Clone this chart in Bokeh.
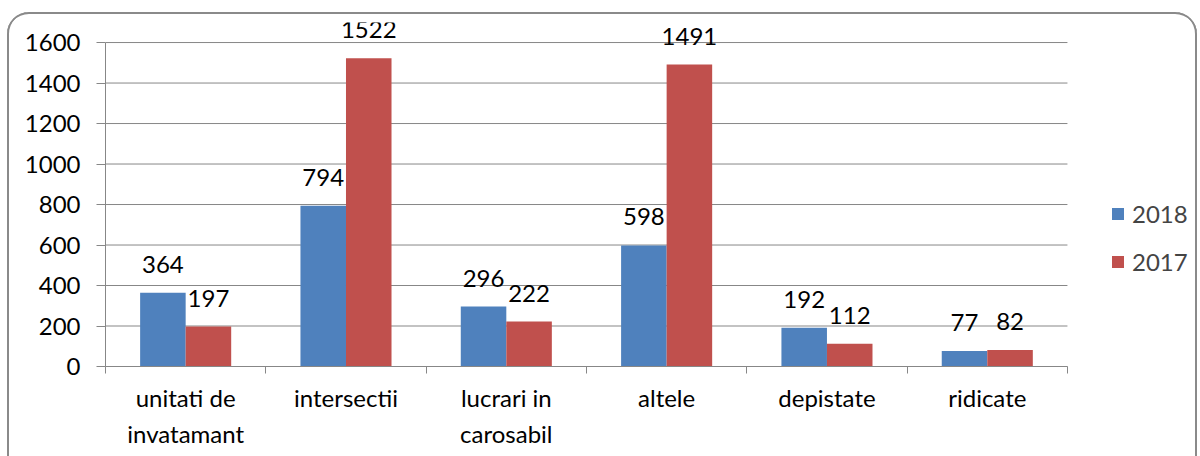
from bokeh.plotting import figure
from bokeh.models import (ColumnDataSource, LabelSet, Legend, LegendItem,
                          FixedTicker, Range1d)
from bokeh.embed import file_html
from bokeh.resources import INLINE
from bokeh.core.properties import value

categories = ["unitati de\ninvatamant", "intersectii", "lucrari in\ncarosabil",
              "altele", "depistate", "ridicate"]
series_names = ["2018", "2017"]
values_2018 = [364, 794, 296, 598, 192, 77]
values_2017 = [197, 1522, 222, 1491, 112, 82]
y_ticks = [0, 200, 400, 600, 800, 1000, 1200, 1400, 1600]

colors = ["#4F81BD", "#C0504D"]
FONT = "Lato"
FS = "24px"
GRID = "#878787"
bar_w = 0.284

n = len(categories)
centers = [i + 0.5 for i in range(n)]

p = figure(width=1190, height=444, output_backend="svg", toolbar_location=None,
           x_range=Range1d(0, 6.78), y_range=Range1d(0, 1699),
           min_border_left=98, min_border_right=5, min_border_top=10,
           min_border_bottom=90)
p.margin = (12, 0, 0, 7)
p.styles = {"border-radius": "22px 22px 0 0",
            "box-shadow": "inset 2px 0 0 0 #8a8a8a, inset -2px 0 0 0 #8a8a8a, inset 0 2px 0 0 #8a8a8a"}
p.outline_line_color = None
p.background_fill_color = None
p.border_fill_color = None

# horizontal gridlines, limited to the category span
p.segment(x0=0, x1=n, y0=y_ticks, y1=y_ticks, line_color=GRID, line_width=1)

src_a = ColumnDataSource(dict(x=[c - bar_w / 2 for c in centers], top=values_2018,
                              lbl=[str(v) for v in values_2018]))
src_b = ColumnDataSource(dict(x=[c + bar_w / 2 for c in centers], top=values_2017,
                              lbl=[str(v) for v in values_2017]))

ra = p.vbar(x="x", top="top", width=bar_w, source=src_a, fill_color=colors[0],
            line_color=None)
rb = p.vbar(x="x", top="top", width=bar_w, source=src_b, fill_color=colors[1],
            line_color=None)

for src in (src_a, src_b):
    p.add_layout(LabelSet(x="x", y="top", text="lbl", source=src, y_offset=20,
                          text_align="center", text_baseline="alphabetic",
                          text_font=value(FONT), text_font_size=FS,
                          text_color="black"))

# y axis
yax = p.yaxis[0]
yax.ticker = FixedTicker(ticks=y_ticks)
yax.bounds = (0, 1600)
yax.axis_line_color = GRID
yax.major_tick_line_color = GRID
yax.major_tick_out = 9
yax.major_tick_in = 0
yax.minor_tick_line_color = None
yax.major_label_text_font = FONT
yax.major_label_text_font_size = FS
yax.major_label_text_color = "black"
yax.major_label_standoff = 16

# x axis
xax = p.xaxis[0]
xax.ticker = FixedTicker(ticks=centers, minor_ticks=list(range(n + 1)))
xax.bounds = (0, n)
xax.major_label_overrides = {c: categories[i] for i, c in enumerate(centers)}
xax.axis_line_color = GRID
xax.major_tick_line_color = None
xax.minor_tick_line_color = GRID
xax.minor_tick_out = 7
xax.minor_tick_in = 0
xax.major_label_text_font = FONT
xax.major_label_text_font_size = FS
xax.major_label_text_color = "black"
xax.major_label_text_line_height = 1.27
xax.major_label_standoff = 9

p.xgrid.grid_line_color = None
p.ygrid.grid_line_color = None

legend = Legend(items=[LegendItem(label=series_names[0], renderers=[ra]),
                       LegendItem(label=series_names[1], renderers=[rb])],
                location=(1005, 90), padding=0, margin=0, spacing=19,
                glyph_width=15, glyph_height=15, label_standoff=7,
                label_text_font=FONT, label_text_font_size=FS,
                border_line_color=None, background_fill_alpha=0)
p.add_layout(legend, "center")

open("out.html", "w").write(file_html(p, INLINE))
